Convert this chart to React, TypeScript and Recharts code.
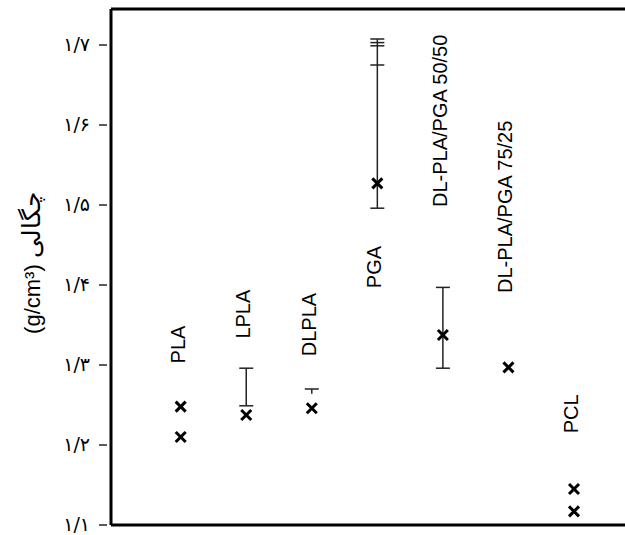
import { ScatterChart, Scatter, XAxis, YAxis, ReferenceLine } from "recharts";

// polymer names, in the order they sit along the x axis
const materials = [
  "PLA",
  "LPLA",
  "DLPLA",
  "PGA",
  "DL-PLA/PGA 50/50",
  "DL-PLA/PGA 75/25",
  "PCL",
];

// measured densities (g/cm3), one list per material
const densities = [
  [1.248, 1.21],
  [1.2375],
  [1.246],
  [1.527],
  [1.3375],
  [1.297],
  [1.145, 1.117],
];

// vertical range lines [low, high], null where there is none
const ranges = [
  null,
  [1.249, 1.296],
  [1.264, 1.27],
  [1.496, 1.7075],
  [1.296, 1.397],
  null,
  null,
];

// where the end caps sit on each range
const caps = [
  [],
  [1.249, 1.296],
  [1.27],
  [1.496, 1.675, 1.699, 1.703, 1.7075],
  [1.296, 1.397],
  [],
  [],
];

// density value at which each name label starts
const labelStart = [1.302, 1.333, 1.311, 1.396, 1.4975, 1.39, 1.2146];

const yTicks = [1.1, 1.2, 1.3, 1.4, 1.5, 1.6, 1.7];
const yDomain = [1.1, 1.745];

const pointData = densities.flatMap((list, i) => list.map((y) => ({ x: i + 1, y })));
const capData = caps.flatMap((list, i) => list.map((y) => ({ x: i + 1, y })));
const labelData = materials.map((name, i) => ({ x: i + 1, y: labelStart[i], name }));

const persianDigits = "۰۱۲۳۴۵۶۷۸۹";
const toPersian = (v: number) =>
  v.toFixed(1).replace(".", "/").replace(/\d/g, (d) => persianDigits[Number(d)]);

const latin = "'Liberation Sans', Arial, sans-serif";

const DensityTick = (props: any) => {
  const { x, y, payload } = props;
  return (
    <g>
      <line x1={x - 12} x2={x - 4} y1={y} y2={y} stroke="#000" strokeWidth={1.3} />
      <text
        x={x - 21}
        y={y - 1}
        textAnchor="end"
        dominantBaseline="central"
        fontSize={19}
        fontFamily="'DejaVu Sans', sans-serif"
        fill="#000"
      >
        {toPersian(payload.value)}
      </text>
    </g>
  );
};

const YTitle = (props: any) => {
  const { viewBox } = props;
  const cy = viewBox.y + viewBox.height / 2 - 4;
  const tx = 40;
  return (
    <text
      x={tx}
      y={cy}
      transform={`rotate(-90 ${tx} ${cy})`}
      textAnchor="middle"
      fontSize={22}
      fontFamily={latin}
      fill="#000"
    >
      (g/cm³) <tspan fontSize={25}>چگالی</tspan>
    </text>
  );
};

const Cross = (props: any) => {
  const { cx, cy } = props;
  const s = 5;
  return (
    <g stroke="#000" strokeWidth={3}>
      <line x1={cx - s} y1={cy - s} x2={cx + s} y2={cy + s} />
      <line x1={cx - s} y1={cy + s} x2={cx + s} y2={cy - s} />
    </g>
  );
};

const Cap = (props: any) => {
  const { cx, cy } = props;
  return <line x1={cx - 7} x2={cx + 7} y1={cy} y2={cy} stroke="#222" strokeWidth={1.5} />;
};

const NameLabel = (props: any) => {
  const { cx, cy, payload } = props;
  const tx = cx + 4;
  return (
    <text
      x={tx}
      y={cy}
      transform={`rotate(-90 ${tx} ${cy})`}
      fontSize={20}
      fontFamily={latin}
      fill="#000"
    >
      {payload.name}
    </text>
  );
};

export default function App() {
  return (
    <div style={{ width: 625, height: 535, background: "#fff" }}>
      <style>{"body{margin:0}"}</style>
      <ScatterChart width={625} height={535} margin={{ top: 9, right: 0, bottom: 10, left: 0 }}>
        <XAxis
          type="number"
          dataKey="x"
          domain={[-0.063, 7.778]}
          height={0}
          tick={false}
          tickLine={false}
          axisLine={false}
        />
        <YAxis
          type="number"
          dataKey="y"
          domain={yDomain}
          ticks={yTicks}
          width={111}
          tickSize={0}
          tickMargin={0}
          tickLine={false}
          tick={<DensityTick />}
          axisLine={{ stroke: "#000", strokeWidth: 3 }}
          label={<YTitle />}
        />
        <ReferenceLine y={yDomain[0]} stroke="#000" strokeWidth={3} />
        <ReferenceLine y={yDomain[1]} stroke="#000" strokeWidth={3} />
        {ranges.map((r, i) =>
          r ? (
            <ReferenceLine
              key={materials[i]}
              segment={[
                { x: i + 1, y: r[0] },
                { x: i + 1, y: r[1] },
              ]}
              stroke="#222"
              strokeWidth={1.5}
            />
          ) : null
        )}
        <Scatter data={capData} shape={<Cap />} isAnimationActive={false} />
        <Scatter data={pointData} shape={<Cross />} isAnimationActive={false} />
        <Scatter data={labelData} shape={<NameLabel />} isAnimationActive={false} />
      </ScatterChart>
    </div>
  );
}
